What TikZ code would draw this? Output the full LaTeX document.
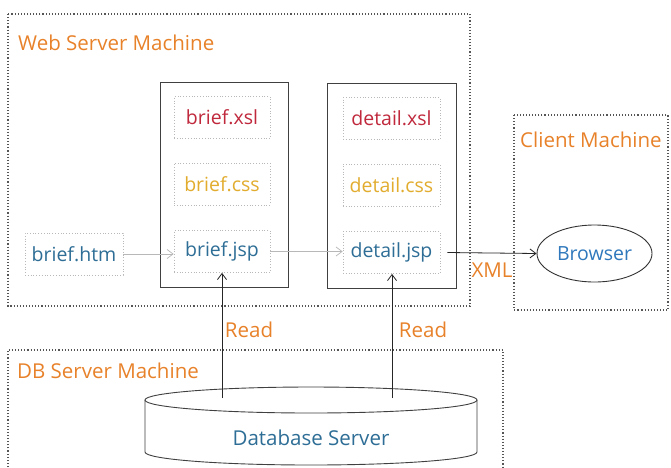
\documentclass[tikz,border=0pt]{standalone}
\usepackage{fontspec}
\setmainfont{Open Sans}
\usetikzlibrary{arrows.meta,shapes.geometric}
\definecolor{ttl}{HTML}{E8822A}
\definecolor{xslc}{HTML}{C0283C}
\definecolor{cssc}{HTML}{E2AC2E}
\definecolor{jspc}{HTML}{2E6E96}
\definecolor{brw}{HTML}{2F78BC}
\definecolor{dotc}{HTML}{555555}
\definecolor{inc}{HTML}{B8B8B8}
\tikzset{
  machine/.style={draw=dotc, line width=1.1pt, dotted},
  title/.style={text=ttl, font=\fontsize{20.5}{24}\selectfont, anchor=west, inner sep=0pt},
  host/.style={draw=black!75, line width=0.9pt},
  file/.style={draw=inc, dotted, line width=0.8pt, minimum width=96pt, minimum height=42pt, font=\fontsize{19.5}{23}\selectfont, inner sep=0pt},
  flow/.style={draw=inc, line width=0.7pt, -{Straight Barb[length=6pt,width=9pt]}},
  call/.style={draw=black!85, line width=0.8pt, -{Straight Barb[length=6pt,width=9pt]}},
  lbl/.style={text=ttl, font=\fontsize{20.5}{24}\selectfont, inner sep=0pt},
}
\begin{document}
\begin{tikzpicture}[x=1pt,y=-1pt]
\useasboundingbox (0,0) rectangle (671,467);
\fill[white] (0,0) rectangle (671,467);
% machines
\draw[machine] (8,14) rectangle (470,306);
\draw[machine] (514,115) rectangle (668,310);
\draw[machine] (8,467) -- (8,350) -- (503,350) -- (503,467);
\node[title] (tweb) at (18,43) {Web Server Machine};
\node[title] (tcli) at (520,140) {Client Machine};
\node[title] (tdb) at (17,371) {DB Server Machine};
% host boxes
\node[host, minimum width=128pt, minimum height=205pt, inner sep=0pt] (bbox) at (224,185) {};
\node[host, minimum width=129pt, minimum height=205pt, inner sep=0pt] (dbox) at (391.5,185.5) {};
% files
\node[file, text=xslc] (bxsl) at (222,117.5) {brief.xsl};
\node[file, text=cssc] (bcss) at (222,184) {brief.css};
\node[file, text=jspc] (bjsp) at (222,251.5) {brief.jsp};
\node[file, text=xslc, minimum width=97pt] (dxsl) at (391.5,118.5) {detail.xsl};
\node[file, text=cssc, minimum width=97pt] (dcss) at (391.5,185) {detail.css};
\node[file, text=jspc, minimum width=97pt] (djsp) at (391.5,252.5) {detail.jsp};
\node[file, text=jspc, minimum width=98pt] (bhtm) at (74,254) {brief.htm};
% browser
\node[draw=black!80, line width=0.9pt, ellipse, minimum width=115pt, minimum height=57pt, inner sep=0pt, text=brw, font=\fontsize{19.5}{23}\selectfont] (brow) at (594.5,253.5) {Browser};
% database cylinder
\draw[black!75, line width=0.9pt] (145,400) -- (145,452) arc[start angle=180, end angle=0, x radius=166, y radius=13] -- (477,400);
\draw[black!75, line width=0.9pt, fill=white] (311,400) ellipse[x radius=166, y radius=13];
\node[text=jspc, font=\fontsize{20.5}{24}\selectfont] (db) at (311,438) {Database Server};
\coordinate (r1) at (222,398);
\coordinate (r2) at (392,398);
% connectors
\draw[flow] (bhtm.east) -- (bjsp.west |- bhtm.east);
\draw[flow] (bjsp.east) -- (djsp.west |- bjsp.east);
\draw[call] ([xshift=7pt]djsp.east) -- (brow.west);
\draw[call] (r1) -- (r1 |- bjsp.south);
\draw[call] (r2) -- (r2 |- djsp.south);
\node[lbl] (xml) at (492,270) {XML};
\node[lbl] (read1) at (249,330) {Read};
\node[lbl] (read2) at (423,330) {Read};
\end{tikzpicture}
\end{document}
